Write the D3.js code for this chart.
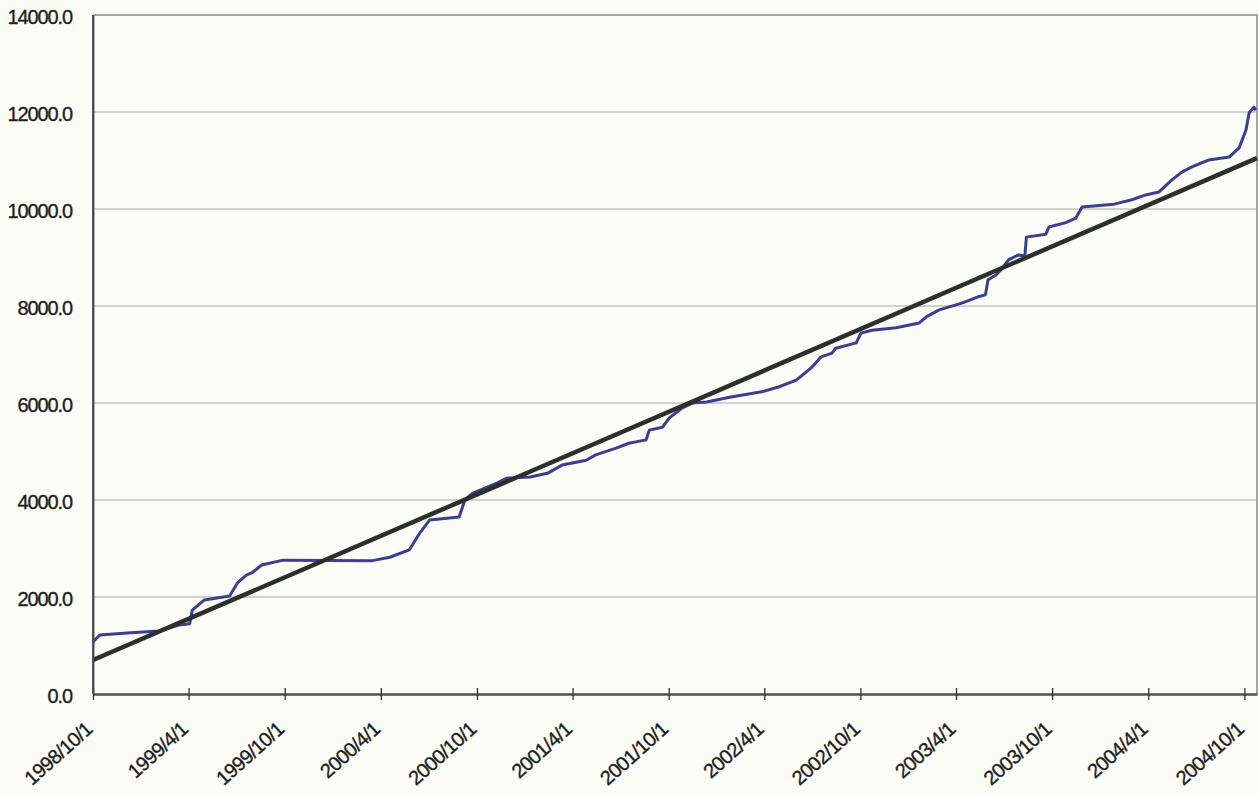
<!DOCTYPE html>
<html>
<head>
<meta charset="utf-8">
<script src="https://cdn.jsdelivr.net/npm/d3@7"></script>
<style>
  html, body { margin: 0; padding: 0; background: #fcfcf7; }
  svg { display: block; }
  text { font-family: "Liberation Sans", Arial, sans-serif; fill: #1e1e1e; }
</style>
</head>
<body>
<svg id="chart" width="1259" height="795"></svg>
<script>
// ---- data ----
const xTickLabels = ["1998/10/1","1999/4/1","1999/10/1","2000/4/1","2000/10/1","2001/4/1","2001/10/1",
  "2002/4/1","2002/10/1","2003/4/1","2003/10/1","2004/4/1","2004/10/1"];
const yTickValues = [0, 2000, 4000, 6000, 8000, 10000, 12000, 14000];
const axisStart = "1998/10/1";
const axisEnd = "2004/10/25";

const seriesDates = [
  "1998/10/1","1998/10/14","1998/12/5","1999/2/3","1999/3/14","1999/4/3","1999/4/8","1999/5/1",
  "1999/6/18","1999/7/3","1999/7/20","1999/8/1","1999/8/18","1999/9/28","2000/3/16","2000/4/18",
  "2000/5/25","2000/6/13","2000/7/3","2000/8/28","2000/9/8","2000/9/23","2000/11/8","2000/11/27",
  "2001/1/10","2001/2/12","2001/3/12","2001/4/27","2001/5/15","2001/6/23","2001/7/17","2001/8/19",
  "2001/8/25","2001/9/19","2001/10/2","2001/10/27","2001/11/16","2001/12/12","2002/1/25","2002/3/27",
  "2002/4/28","2002/6/1","2002/7/1","2002/7/18","2002/8/8","2002/8/15","2002/9/23","2002/10/2",
  "2002/10/23","2002/12/8","2003/1/21","2003/2/4","2003/2/28","2003/4/12","2003/5/13","2003/5/27",
  "2003/6/1","2003/6/16","2003/6/25","2003/7/10","2003/7/28","2003/8/10","2003/8/13","2003/9/19",
  "2003/9/25","2003/10/27","2003/11/15","2003/11/27","2004/1/27","2004/3/1","2004/3/27","2004/4/21",
  "2004/5/16","2004/6/4","2004/6/23","2004/7/25","2004/9/2","2004/9/21","2004/10/4","2004/10/10",
  "2004/10/19","2004/10/23"
];
const seriesValues = [
  1072,1216,1258,1300,1420,1450,1730,1940,
  2020,2290,2450,2510,2660,2760,2750,2820,
  2970,3300,3590,3650,4000,4140,4350,4450,
  4475,4550,4720,4820,4930,5070,5170,5240,
  5440,5500,5690,5900,6000,6020,6120,6230,
  6330,6470,6740,6950,7030,7130,7240,7440,
  7500,7550,7650,7780,7920,8060,8190,8230,
  8540,8640,8740,8950,9050,9030,9420,9480,
  9630,9720,9810,10040,10100,10190,10290,10350,
  10600,10760,10870,11010,11070,11260,11630,11980,
  12100,12040
];
const trendDates = ["1998/10/1", "2004/10/25"];
const trendValues = [700, 11050];

// ---- layout ----
const parse = d3.timeParse("%Y/%m/%d");
const margin = { left: 93, right: 2, top: 15, bottom: 100 };
const W = 1259, H = 795;
const svg = d3.select("#chart");
const FONT = '"Liberation Sans", Arial, sans-serif';

const x = d3.scaleTime()
  .domain([parse(axisStart), parse(axisEnd)])
  .range([margin.left, W - margin.right]);
const y = d3.scaleLinear()
  .domain([0, 14000])
  .range([694, margin.top]);

// gridlines
svg.append("g").selectAll("line")
  .data(yTickValues.filter(v => v > 0 && v < 14000))
  .join("line")
  .attr("x1", x.range()[0]).attr("x2", x.range()[1])
  .attr("y1", d => y(d)).attr("y2", d => y(d))
  .attr("stroke", "#a8a8a4").attr("stroke-width", 1.2);

// plot border (top + right)
svg.append("path")
  .attr("d", `M${x.range()[0]},${y(14000)}H${x.range()[1]}V${y(0)}`)
  .attr("fill", "none").attr("stroke", "#8a8a86").attr("stroke-width", 1.5);

// y axis
const yAxis = d3.axisLeft(y).tickValues(yTickValues).tickSize(0).tickPadding(21)
  .tickFormat(d3.format(".1f"));
const gy = svg.append("g").attr("transform", `translate(${x.range()[0]},0)`).call(yAxis);
gy.select(".domain").attr("stroke", "#505050").attr("stroke-width", 2);
gy.selectAll("text").attr("font-size", 20).attr("fill", "#1e1e1e")
  .attr("stroke", "#1e1e1e").attr("stroke-width", 0.35)
  .attr("letter-spacing", "-1.1px")
  .attr("dy", "0.42em")
  .style("font-family", FONT);

// x axis
const xAxis = d3.axisBottom(x).tickValues(xTickLabels.map(s => parse(s)))
  .tickSize(0).tickFormat((d, i) => xTickLabels[i]);
const gx = svg.append("g").attr("transform", `translate(0,${y(0)})`).call(xAxis);
gx.select(".domain").attr("stroke", "#505050").attr("stroke-width", 2.5);
gx.selectAll(".tick line").attr("y1", -6).attr("y2", 6).attr("stroke", "#303030").attr("stroke-width", 1.3);
gx.selectAll(".tick text")
  .attr("font-size", 20)
  .attr("letter-spacing", "-0.7px")
  .attr("fill", "#1e1e1e")
  .attr("stroke", "#1e1e1e").attr("stroke-width", 0.35)
  .style("font-family", FONT)
  .attr("text-anchor", "end")
  .attr("dy", null)
  .attr("y", 0)
  .attr("transform", "translate(0,37) rotate(-42)");

// series
const seriesData = seriesDates.map((d, i) => ({ date: parse(d), value: seriesValues[i] }));
const trendData = trendDates.map((d, i) => ({ date: parse(d), value: trendValues[i] }));
const line = d3.line().x(d => x(d.date)).y(d => y(d.value));

svg.append("path").datum(seriesData)
  .attr("d", line)
  .attr("fill", "none").attr("stroke", "#3c3f8f").attr("stroke-width", 3)
  .attr("stroke-linejoin", "round");

svg.append("path").datum(trendData)
  .attr("d", line)
  .attr("fill", "none").attr("stroke", "#2c302c").attr("stroke-width", 4.5);

// left axis line on top
svg.append("line")
  .attr("x1", x.range()[0]).attr("x2", x.range()[0])
  .attr("y1", y(14000)).attr("y2", y(0))
  .attr("stroke", "#505050").attr("stroke-width", 2);
</script>
</body>
</html>
